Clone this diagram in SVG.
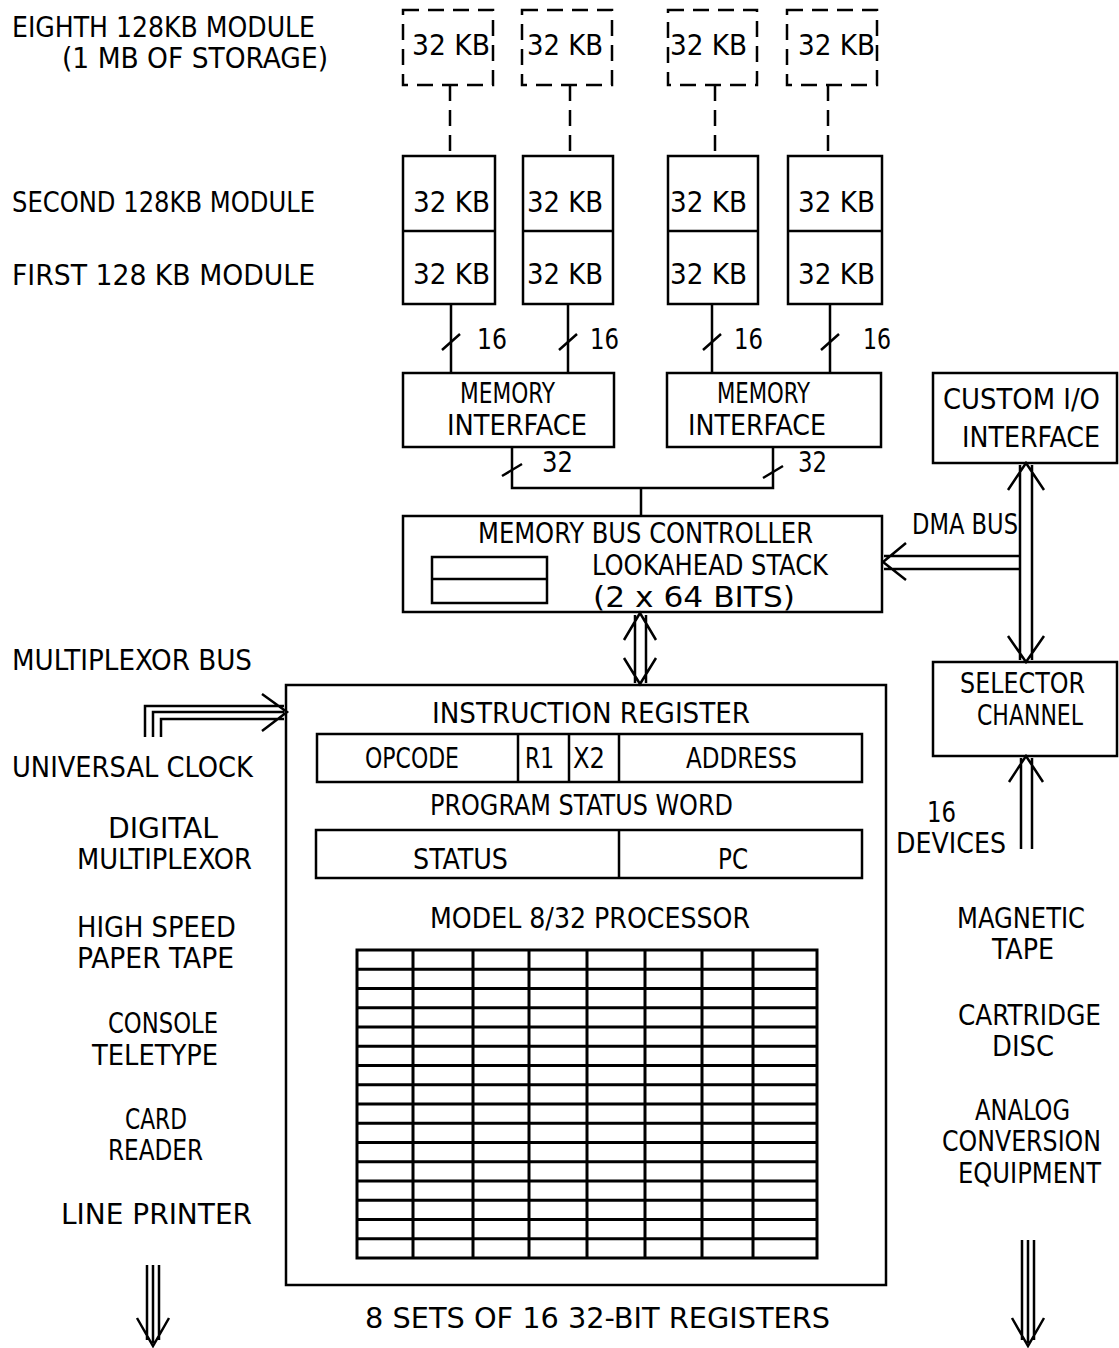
<svg xmlns="http://www.w3.org/2000/svg" width="1119" height="1348" viewBox="0 0 1119 1348">
<style>
text{font-family:"DejaVu Sans Condensed","DejaVu Sans",sans-serif;font-stretch:condensed;font-size:29px;fill:#000}
.box{fill:none;stroke:#000;stroke-width:2.5}
.dash{fill:none;stroke:#000;stroke-width:2.5;stroke-dasharray:16 9}
.ln{fill:none;stroke:#000;stroke-width:2.5}
.grid{fill:none;stroke:#000;stroke-width:3}
</style>
<rect width="1119" height="1348" fill="#fff"/>

<g id="labels-left">
<text x="12" y="37" textLength="303" lengthAdjust="spacingAndGlyphs">EIGHTH 128KB MODULE</text>
<text x="62" y="68" textLength="266" lengthAdjust="spacingAndGlyphs">(1 MB OF STORAGE)</text>
<text x="12" y="212" textLength="303" lengthAdjust="spacingAndGlyphs">SECOND 128KB MODULE</text>
<text x="12" y="285" textLength="303" lengthAdjust="spacingAndGlyphs">FIRST 128 KB MODULE</text>
<text x="12" y="670" textLength="240" lengthAdjust="spacingAndGlyphs">MULTIPLEXOR BUS</text>
<text x="12" y="777" textLength="241" lengthAdjust="spacingAndGlyphs">UNIVERSAL CLOCK</text>
<text x="108" y="838" textLength="110" lengthAdjust="spacingAndGlyphs">DIGITAL</text>
<text x="77" y="869" textLength="175" lengthAdjust="spacingAndGlyphs">MULTIPLEXOR</text>
<text x="77" y="937" textLength="159" lengthAdjust="spacingAndGlyphs">HIGH SPEED</text>
<text x="77" y="968" textLength="157" lengthAdjust="spacingAndGlyphs">PAPER TAPE</text>
<text x="108" y="1033" textLength="110" lengthAdjust="spacingAndGlyphs">CONSOLE</text>
<text x="92" y="1065" textLength="126" lengthAdjust="spacingAndGlyphs">TELETYPE</text>
<text x="125" y="1129" textLength="62" lengthAdjust="spacingAndGlyphs">CARD</text>
<text x="108" y="1160" textLength="95" lengthAdjust="spacingAndGlyphs">READER</text>
<text x="61" y="1224" textLength="191" lengthAdjust="spacingAndGlyphs">LINE PRINTER</text>
</g>

<g id="labels-right">
<text x="927" y="822" textLength="29" lengthAdjust="spacingAndGlyphs">16</text>
<text x="896" y="853" textLength="110" lengthAdjust="spacingAndGlyphs">DEVICES</text>
<text x="957" y="928" textLength="128" lengthAdjust="spacingAndGlyphs">MAGNETIC</text>
<text x="992" y="959" textLength="62" lengthAdjust="spacingAndGlyphs">TAPE</text>
<text x="958" y="1025" textLength="143" lengthAdjust="spacingAndGlyphs">CARTRIDGE</text>
<text x="992" y="1056" textLength="62" lengthAdjust="spacingAndGlyphs">DISC</text>
<text x="975" y="1120" textLength="95" lengthAdjust="spacingAndGlyphs">ANALOG</text>
<text x="942" y="1151" textLength="159" lengthAdjust="spacingAndGlyphs">CONVERSION</text>
<text x="958" y="1183" textLength="143" lengthAdjust="spacingAndGlyphs">EQUIPMENT</text>
<text x="912" y="534" textLength="106" lengthAdjust="spacingAndGlyphs">DMA BUS</text>
<text x="365" y="1328" textLength="465" lengthAdjust="spacingAndGlyphs">8 SETS OF 16 32-BIT REGISTERS</text>
</g>

<g id="mem-eighth-a"><rect class="dash" x="403" y="10" width="90" height="75"/><text x="412" y="55" textLength="78" lengthAdjust="spacingAndGlyphs">32 KB</text></g>
<g id="mem-eighth-b"><rect class="dash" x="522" y="10" width="90" height="75"/><text x="527" y="55" textLength="76" lengthAdjust="spacingAndGlyphs">32 KB</text></g>
<g id="mem-eighth-c"><rect class="dash" x="668" y="10" width="89" height="75"/><text x="670" y="55" textLength="77" lengthAdjust="spacingAndGlyphs">32 KB</text></g>
<g id="mem-eighth-d"><rect class="dash" x="787" y="10" width="90" height="75"/><text x="798" y="55" textLength="77" lengthAdjust="spacingAndGlyphs">32 KB</text></g>

<g id="mem-a"><rect class="box" x="403" y="156" width="92" height="148"/><line class="ln" x1="403" y1="231" x2="495" y2="231"/><text x="413" y="212" textLength="77" lengthAdjust="spacingAndGlyphs">32 KB</text><text x="413" y="284" textLength="77" lengthAdjust="spacingAndGlyphs">32 KB</text></g>
<g id="mem-b"><rect class="box" x="523" y="156" width="90" height="148"/><line class="ln" x1="523" y1="231" x2="613" y2="231"/><text x="527" y="212" textLength="76" lengthAdjust="spacingAndGlyphs">32 KB</text><text x="527" y="284" textLength="76" lengthAdjust="spacingAndGlyphs">32 KB</text></g>
<g id="mem-c"><rect class="box" x="668" y="156" width="90" height="148"/><line class="ln" x1="668" y1="231" x2="758" y2="231"/><text x="670" y="212" textLength="77" lengthAdjust="spacingAndGlyphs">32 KB</text><text x="670" y="284" textLength="77" lengthAdjust="spacingAndGlyphs">32 KB</text></g>
<g id="mem-d"><rect class="box" x="788" y="156" width="94" height="148"/><line class="ln" x1="788" y1="231" x2="882" y2="231"/><text x="798" y="212" textLength="77" lengthAdjust="spacingAndGlyphs">32 KB</text><text x="798" y="284" textLength="77" lengthAdjust="spacingAndGlyphs">32 KB</text></g>

<g id="mem-if-1"><rect class="box" x="403" y="373" width="211" height="74"/><text x="460" y="403" textLength="95" lengthAdjust="spacingAndGlyphs">MEMORY</text><text x="447" y="435" textLength="140" lengthAdjust="spacingAndGlyphs">INTERFACE</text></g>
<g id="mem-if-2"><rect class="box" x="667" y="373" width="214" height="74"/><text x="717" y="403" textLength="93" lengthAdjust="spacingAndGlyphs">MEMORY</text><text x="688" y="435" textLength="138" lengthAdjust="spacingAndGlyphs">INTERFACE</text></g>

<g id="mem-bus-controller"><rect class="box" x="403" y="516" width="479" height="96"/><text x="478" y="543" textLength="335" lengthAdjust="spacingAndGlyphs">MEMORY BUS CONTROLLER</text><text x="592" y="575" textLength="236" lengthAdjust="spacingAndGlyphs">LOOKAHEAD STACK</text><text x="593" y="607" textLength="202" lengthAdjust="spacingAndGlyphs">(2 x 64 BITS)</text><rect class="box" x="432" y="557" width="115" height="46"/><line class="ln" x1="432" y1="579" x2="547" y2="579"/></g>

<g id="custom-io"><rect class="box" x="933" y="373" width="184" height="90"/><text x="943" y="409" textLength="157" lengthAdjust="spacingAndGlyphs">CUSTOM I/O</text><text x="962" y="447" textLength="138" lengthAdjust="spacingAndGlyphs">INTERFACE</text></g>
<g id="selector-channel"><rect class="box" x="933" y="662" width="184" height="94"/><text x="960" y="693" textLength="125" lengthAdjust="spacingAndGlyphs">SELECTOR</text><text x="977" y="725" textLength="106" lengthAdjust="spacingAndGlyphs">CHANNEL</text></g>

<g id="processor">
<rect class="box" x="286" y="685" width="600" height="600"/>
<text x="432" y="723" textLength="318" lengthAdjust="spacingAndGlyphs">INSTRUCTION REGISTER</text>
<rect class="box" x="317" y="734" width="545" height="48"/>
<line class="ln" x1="518" y1="734" x2="518" y2="782"/><line class="ln" x1="569" y1="734" x2="569" y2="782"/><line class="ln" x1="619" y1="734" x2="619" y2="782"/>
<text x="365" y="768" textLength="94" lengthAdjust="spacingAndGlyphs">OPCODE</text>
<text x="525" y="768" textLength="29" lengthAdjust="spacingAndGlyphs">R1</text>
<text x="573" y="768" textLength="32" lengthAdjust="spacingAndGlyphs">X2</text>
<text x="686" y="768" textLength="111" lengthAdjust="spacingAndGlyphs">ADDRESS</text>
<text x="430" y="815" textLength="303" lengthAdjust="spacingAndGlyphs">PROGRAM STATUS WORD</text>
<rect class="box" x="316" y="830" width="546" height="48"/>
<line class="ln" x1="619" y1="830" x2="619" y2="878"/>
<text x="413" y="869" textLength="95" lengthAdjust="spacingAndGlyphs">STATUS</text>
<text x="718" y="869" textLength="30" lengthAdjust="spacingAndGlyphs">PC</text>
<text x="430" y="928" textLength="320" lengthAdjust="spacingAndGlyphs">MODEL 8/32 PROCESSOR</text>
<g id="register-file">
<rect class="grid" x="357" y="950" width="460" height="308"/>
<path class="grid" d="M413,950V1258M473,950V1258M529,950V1258M587,950V1258M645,950V1258M702,950V1258M753,950V1258"/>
<path class="grid" d="M357,969.25H817M357,988.5H817M357,1007.75H817M357,1027H817M357,1046.25H817M357,1065.5H817M357,1084.75H817M357,1104H817M357,1123.25H817M357,1142.5H817M357,1161.75H817M357,1181H817M357,1200.25H817M357,1219.5H817M357,1238.75H817"/>
</g>
</g>

<g id="connectors">
<path class="dash" d="M450,85V156M570,85V156M715,85V156M828,85V156"/>
<path class="ln" d="M451,304V373M568,304V373M712,304V373M830,304V373"/>
<path class="ln" d="M442,350L460,334M559,350L577,334M703,350L721,334M821,350L839,334"/>
<text x="477" y="349" textLength="30" lengthAdjust="spacingAndGlyphs">16</text>
<text x="590" y="349" textLength="29" lengthAdjust="spacingAndGlyphs">16</text>
<text x="734" y="349" textLength="29" lengthAdjust="spacingAndGlyphs">16</text>
<text x="863" y="349" textLength="28" lengthAdjust="spacingAndGlyphs">16</text>
<path class="ln" d="M512,447V488H773V447M641,488V516"/>
<path class="ln" d="M502,476L522,464M763,478L783,466"/>
<text x="542" y="472" textLength="31" lengthAdjust="spacingAndGlyphs">32</text>
<text x="798" y="472" textLength="29" lengthAdjust="spacingAndGlyphs">32</text>
<path class="ln" d="M635,615V683M646,615V683M624,640L640,613L656,640M624,658L640,684L656,658"/>
<path class="ln" d="M884,556H1020M884,569H1020M906,543L883,562L906,580"/>
<path class="ln" d="M1020,465V660M1032,465V660M1008,490L1026,463L1044,490M1008,636L1026,662L1044,636"/>
<path class="ln" d="M1021,758V849M1032,758V849M1009,782L1026,756L1043,782"/>
<path class="ln" d="M145,737V706H284M153,737V712H284M161,737V719H284M262,694L287,712L262,731"/>
<path class="ln" d="M147,1265V1340M153,1265V1343M159,1265V1340M137,1318L153,1346L169,1318"/>
<path class="ln" d="M1022,1240V1340M1028,1240V1343M1034,1240V1340M1012,1318L1028,1346L1044,1318"/>
</g>
</svg>
